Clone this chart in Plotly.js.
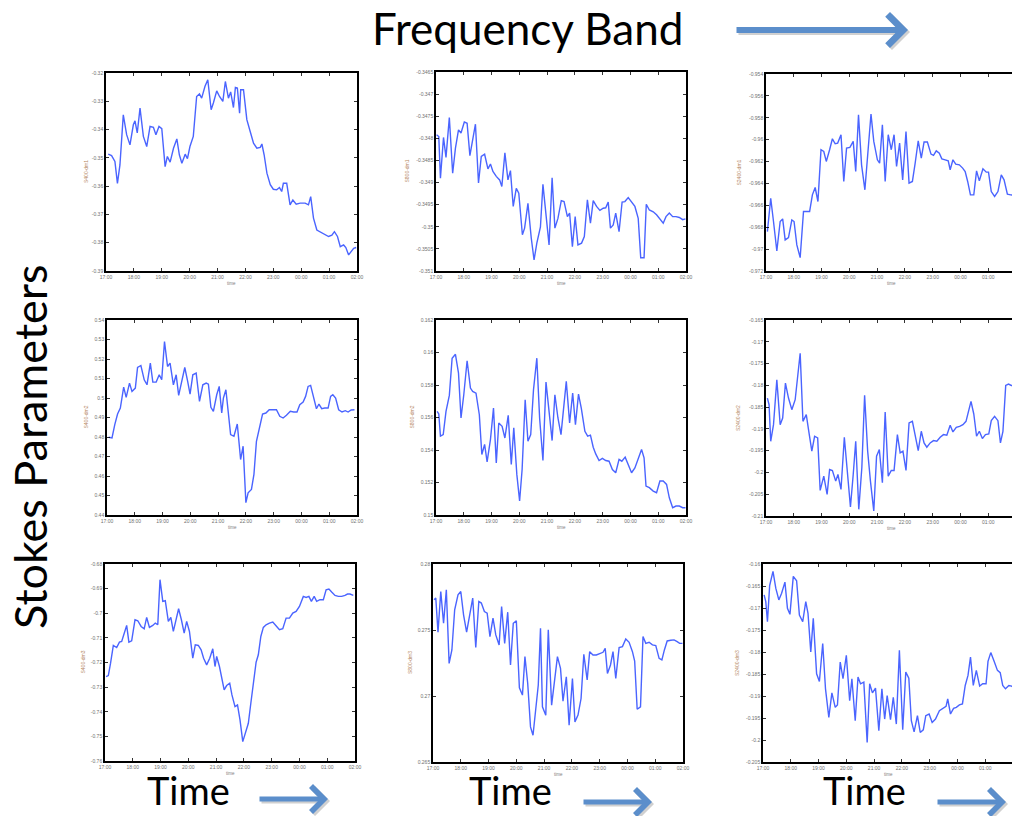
<!DOCTYPE html>
<html>
<head>
<meta charset="utf-8">
<script src="https://cdn.plot.ly/plotly-3.0.1.min.js"></script>
<style>html,body{margin:0;padding:0;background:#fff;}#chart{width:1012px;height:816px;}</style>
</head>
<body>
<div id="chart"></div>
<script>
// ---- data (time in hours after 17:00) ----
const hourTicks = [0,1,2,3,4,5,6,7,8,9];
const hourLabels = ['17:00','18:00','19:00','20:00','21:00','22:00','23:00','00:00','01:00','02:00'];
const yLabels = ['S400-dm1','S800-dm1','S2400-dm1','S400-dm2','S800-dm2','S2400-dm2','S400-dm3','S800-dm3','S2400-dm3'];

const t1 = [0.08,0.20,0.32,0.41,0.50,0.62,0.74,0.86,0.98,1.04,1.12,1.22,1.34,1.46,1.58,1.70,1.79,1.90,2.00,2.12,2.20,2.30,2.42,2.54,2.63,2.72,2.84,2.92,3.01,3.13,3.25,3.35,3.43,3.55,3.65,3.77,3.85,3.97,4.07,4.19,4.28,4.39,4.47,4.57,4.64,4.71,4.79,4.83,4.93,5.05,5.17,5.29,5.41,5.53,5.59,5.67,5.77,5.89,6.00,6.12,6.22,6.30,6.36,6.48,6.60,6.70,6.82,6.96,7.14,7.26,7.34,7.44,7.56,7.68,7.80,7.98,8.10,8.19,8.30,8.40,8.52,8.60,8.70,8.78,8.88,8.97];
const v1 = [-0.3487,-0.3492,-0.3513,-0.3590,-0.3525,-0.3348,-0.3418,-0.3454,-0.3383,-0.3369,-0.3412,-0.3324,-0.3424,-0.3460,-0.3389,-0.3392,-0.3418,-0.3389,-0.3397,-0.3531,-0.3495,-0.3515,-0.3466,-0.3433,-0.3489,-0.3519,-0.3487,-0.3503,-0.3460,-0.3424,-0.3283,-0.3274,-0.3289,-0.3247,-0.3224,-0.3330,-0.3306,-0.3263,-0.3283,-0.3300,-0.3230,-0.3289,-0.3267,-0.3322,-0.3251,-0.3253,-0.3342,-0.3259,-0.3259,-0.3365,-0.3407,-0.3448,-0.3466,-0.3463,-0.3451,-0.3489,-0.3554,-0.3595,-0.3611,-0.3613,-0.3605,-0.3619,-0.3590,-0.3590,-0.3666,-0.3649,-0.3664,-0.3660,-0.3660,-0.3666,-0.3637,-0.3713,-0.3755,-0.3761,-0.3767,-0.3778,-0.3773,-0.3761,-0.3778,-0.3814,-0.3808,-0.3817,-0.3843,-0.3832,-0.3820,-0.3817];

const t2 = [0.02,0.10,0.16,0.27,0.36,0.48,0.60,0.70,0.81,0.90,1.02,1.12,1.22,1.32,1.42,1.53,1.63,1.75,1.87,1.96,2.05,2.17,2.29,2.37,2.48,2.59,2.68,2.78,2.89,2.98,3.11,3.19,3.31,3.43,3.53,3.63,3.76,3.85,3.95,4.07,4.18,4.28,4.39,4.51,4.61,4.73,4.81,4.91,5.01,5.11,5.24,5.34,5.45,5.56,5.66,5.78,5.90,6.02,6.11,6.20,6.28,6.38,6.47,6.59,6.70,6.80,6.92,7.04,7.16,7.28,7.37,7.49,7.57,7.68,7.82,7.94,8.06,8.18,8.28,8.40,8.52,8.64,8.76,8.88,8.98];
const v2 = [-0.34792,-0.34796,-0.34890,-0.34798,-0.34843,-0.34753,-0.34879,-0.34822,-0.34781,-0.34788,-0.34763,-0.34766,-0.34839,-0.34799,-0.34768,-0.34901,-0.34841,-0.34836,-0.34869,-0.34858,-0.34875,-0.34886,-0.34894,-0.34909,-0.34833,-0.34894,-0.34873,-0.34954,-0.34913,-0.34924,-0.35018,-0.35003,-0.34947,-0.35026,-0.35075,-0.35037,-0.35000,-0.34904,-0.34973,-0.35041,-0.34889,-0.35003,-0.34981,-0.34941,-0.34943,-0.34977,-0.34969,-0.35045,-0.34977,-0.35041,-0.35037,-0.35022,-0.34939,-0.34992,-0.34941,-0.34954,-0.34963,-0.34958,-0.34957,-0.34944,-0.35003,-0.34996,-0.34969,-0.35011,-0.34944,-0.34943,-0.34934,-0.34944,-0.34954,-0.34981,-0.35070,-0.35070,-0.34949,-0.34962,-0.34966,-0.34973,-0.34984,-0.34992,-0.34977,-0.34969,-0.34977,-0.34977,-0.34979,-0.34984,-0.34982];

const t3 = [0.05,0.17,0.27,0.39,0.51,0.60,0.69,0.81,0.93,1.01,1.11,1.23,1.35,1.45,1.57,1.67,1.77,1.87,1.98,2.08,2.17,2.29,2.39,2.49,2.58,2.70,2.80,2.90,3.02,3.14,3.23,3.33,3.44,3.56,3.67,3.78,3.88,4.01,4.09,4.19,4.29,4.40,4.51,4.61,4.70,4.81,4.92,5.04,5.15,5.27,5.37,5.48,5.59,5.69,5.81,5.94,6.03,6.13,6.24,6.33,6.45,6.56,6.63,6.73,6.83,6.96,7.08,7.17,7.26,7.36,7.48,7.58,7.68,7.81,7.93,8.01,8.11,8.23,8.35,8.47,8.57,8.69,8.81,8.90,9.00];
const v3 = [-0.96840,-0.96535,-0.96748,-0.97017,-0.96748,-0.96724,-0.96916,-0.96895,-0.96733,-0.96748,-0.96962,-0.97078,-0.96657,-0.96657,-0.96657,-0.96504,-0.96437,-0.96565,-0.96092,-0.96108,-0.96199,-0.96092,-0.95992,-0.96037,-0.96031,-0.95955,-0.96382,-0.96077,-0.96071,-0.96016,-0.96291,-0.95772,-0.96230,-0.96458,-0.96077,-0.95766,-0.96016,-0.96184,-0.96214,-0.95864,-0.96382,-0.95955,-0.96092,-0.95955,-0.96245,-0.96031,-0.96367,-0.95925,-0.96397,-0.96382,-0.96214,-0.96010,-0.96169,-0.96022,-0.96022,-0.96132,-0.96144,-0.96102,-0.96123,-0.96175,-0.96184,-0.96193,-0.96275,-0.96184,-0.96224,-0.96230,-0.96260,-0.96291,-0.96382,-0.96504,-0.96504,-0.96285,-0.96376,-0.96266,-0.96297,-0.96297,-0.96474,-0.96519,-0.96474,-0.96321,-0.96367,-0.96498,-0.96504,-0.96504,-0.96510];

const t4 = [0.06,0.18,0.28,0.38,0.48,0.60,0.69,0.81,0.90,1.02,1.10,1.22,1.34,1.44,1.56,1.65,1.77,1.88,1.97,2.07,2.18,2.27,2.39,2.49,2.58,2.69,2.80,2.90,2.99,3.09,3.21,3.33,3.45,3.57,3.65,3.74,3.83,3.95,4.04,4.13,4.19,4.28,4.38,4.45,4.57,4.69,4.81,4.90,5.00,5.08,5.20,5.29,5.38,5.50,5.60,5.72,5.84,5.96,6.10,6.22,6.34,6.46,6.60,6.72,6.84,6.94,7.06,7.15,7.24,7.33,7.42,7.54,7.63,7.73,7.84,7.96,8.05,8.13,8.23,8.34,8.46,8.58,8.68,8.79,8.91];
const v4 = [0.47986,0.47952,0.48634,0.49179,0.49485,0.50559,0.50031,0.50763,0.50337,0.50508,0.51564,0.51666,0.50933,0.50678,0.51785,0.50814,0.50814,0.51189,0.50933,0.52893,0.51615,0.51785,0.50678,0.51189,0.50133,0.50933,0.51564,0.50882,0.50201,0.51189,0.51274,0.49826,0.50678,0.50763,0.50712,0.49520,0.49315,0.50167,0.50593,0.49230,0.49997,0.50422,0.49145,0.48122,0.48037,0.48668,0.46845,0.47526,0.44630,0.45141,0.45312,0.46078,0.47782,0.48634,0.49179,0.49230,0.49400,0.49400,0.49400,0.49060,0.48974,0.49111,0.49315,0.49281,0.49281,0.49656,0.49792,0.50082,0.50593,0.50644,0.50133,0.49451,0.49690,0.49451,0.49485,0.49485,0.50082,0.50167,0.49997,0.49400,0.49281,0.49349,0.49281,0.49383,0.49400];

const t5 = [0.04,0.10,0.16,0.26,0.36,0.48,0.58,0.70,0.81,0.90,1.00,1.12,1.24,1.32,1.44,1.56,1.65,1.75,1.84,1.96,2.07,2.17,2.26,2.38,2.48,2.60,2.71,2.80,2.91,3.01,3.10,3.21,3.31,3.41,3.51,3.63,3.73,3.85,3.96,4.07,4.18,4.28,4.39,4.50,4.60,4.69,4.81,4.92,5.02,5.13,5.23,5.36,5.46,5.56,5.66,5.75,5.87,5.99,6.11,6.23,6.35,6.47,6.59,6.69,6.81,6.93,7.04,7.16,7.28,7.40,7.49,7.56,7.68,7.82,7.94,8.06,8.18,8.30,8.40,8.52,8.64,8.76,8.88,8.98];
const v5 = [0.15638,0.15622,0.15485,0.15495,0.15638,0.15736,0.15965,0.15989,0.15873,0.15597,0.15740,0.15949,0.15781,0.15761,0.15750,0.15617,0.15372,0.15434,0.15327,0.15464,0.15658,0.15321,0.15566,0.15546,0.15474,0.15613,0.15311,0.15536,0.15250,0.15086,0.15280,0.15709,0.15454,0.15495,0.15771,0.15965,0.15597,0.15335,0.15818,0.15638,0.15458,0.15740,0.15597,0.15495,0.15658,0.15822,0.15566,0.15750,0.15556,0.15744,0.15658,0.15515,0.15485,0.15491,0.15417,0.15376,0.15335,0.15348,0.15335,0.15331,0.15280,0.15260,0.15342,0.15331,0.15356,0.15307,0.15260,0.15290,0.15342,0.15403,0.15352,0.15178,0.15168,0.15147,0.15137,0.15209,0.15209,0.15188,0.15106,0.15045,0.15055,0.15055,0.15045,0.15045];

const t6 = [0.05,0.11,0.17,0.27,0.39,0.51,0.60,0.70,0.81,0.93,1.05,1.13,1.23,1.33,1.45,1.54,1.65,1.75,1.86,1.95,2.08,2.20,2.29,2.39,2.51,2.59,2.70,2.82,2.92,3.04,3.14,3.23,3.34,3.45,3.55,3.66,3.76,3.88,3.98,4.08,4.19,4.29,4.40,4.51,4.61,4.73,4.83,4.93,5.04,5.15,5.27,5.38,5.48,5.59,5.69,5.79,5.91,6.03,6.15,6.27,6.39,6.51,6.63,6.73,6.85,6.97,7.09,7.20,7.32,7.38,7.48,7.58,7.68,7.79,7.90,8.02,8.11,8.23,8.35,8.44,8.53,8.63,8.73,8.83,8.90,9.00];
const v6 = [-0.18292,-0.18445,-0.19284,-0.18903,-0.17873,-0.18903,-0.18750,-0.17949,-0.18292,-0.18559,-0.18330,-0.17911,-0.17263,-0.18826,-0.18674,-0.19055,-0.19513,-0.19169,-0.19208,-0.20413,-0.20085,-0.20504,-0.19932,-0.19955,-0.20199,-0.20047,-0.20390,-0.19192,-0.19894,-0.20794,-0.20047,-0.19284,-0.20847,-0.19894,-0.18231,-0.19513,-0.20199,-0.20886,-0.19627,-0.19475,-0.20237,-0.18613,-0.20085,-0.19955,-0.19955,-0.19131,-0.19551,-0.19513,-0.19955,-0.18864,-0.18826,-0.19208,-0.19497,-0.19055,-0.19322,-0.19421,-0.19322,-0.19269,-0.19284,-0.19192,-0.19131,-0.19147,-0.18918,-0.19070,-0.18964,-0.18941,-0.18903,-0.18826,-0.18506,-0.18369,-0.18658,-0.19169,-0.19055,-0.19223,-0.19131,-0.19116,-0.18811,-0.18712,-0.18811,-0.19322,-0.19055,-0.18003,-0.17972,-0.18003,-0.18003,-0.18000];

const t7 = [0.04,0.12,0.20,0.30,0.42,0.52,0.60,0.68,0.78,0.86,0.96,1.08,1.18,1.30,1.41,1.50,1.60,1.72,1.81,1.90,1.98,2.08,2.17,2.28,2.37,2.46,2.56,2.65,2.75,2.85,2.94,3.04,3.16,3.25,3.36,3.46,3.55,3.66,3.77,3.88,3.96,4.02,4.12,4.20,4.29,4.38,4.49,4.57,4.68,4.77,4.86,4.96,5.04,5.16,5.25,5.34,5.44,5.52,5.61,5.70,5.80,5.92,6.04,6.18,6.28,6.40,6.52,6.64,6.76,6.88,7.00,7.14,7.24,7.34,7.43,7.53,7.62,7.74,7.86,7.96,8.06,8.16,8.28,8.40,8.52,8.64,8.73,8.82,8.94];
const v7 = [-0.72570,-0.72529,-0.72027,-0.71309,-0.71390,-0.71173,-0.71146,-0.70875,-0.70495,-0.71173,-0.71119,-0.70265,-0.70305,-0.70536,-0.70631,-0.70170,-0.70576,-0.70495,-0.70400,-0.70468,-0.68637,-0.69519,-0.69492,-0.70332,-0.70170,-0.70739,-0.70197,-0.69817,-0.70265,-0.70807,-0.70332,-0.70739,-0.71824,-0.71282,-0.71309,-0.71485,-0.71824,-0.72095,-0.71824,-0.71444,-0.72163,-0.71756,-0.72163,-0.72570,-0.73112,-0.72936,-0.72841,-0.73316,-0.73790,-0.73722,-0.74333,-0.75214,-0.74875,-0.74468,-0.73655,-0.72746,-0.71987,-0.71688,-0.70943,-0.70576,-0.70468,-0.70400,-0.70359,-0.70536,-0.70671,-0.70631,-0.70197,-0.70197,-0.69993,-0.69926,-0.69722,-0.69315,-0.69356,-0.69315,-0.69519,-0.69315,-0.69519,-0.69451,-0.69451,-0.69044,-0.69017,-0.69139,-0.69275,-0.69315,-0.69315,-0.69275,-0.69220,-0.69220,-0.69275];

const t8 = [0.04,0.10,0.18,0.28,0.38,0.48,0.58,0.68,0.78,0.90,1.00,1.10,1.21,1.32,1.43,1.54,1.65,1.74,1.85,1.95,2.05,2.16,2.26,2.38,2.47,2.58,2.69,2.79,2.89,3.00,3.11,3.22,3.31,3.41,3.51,3.60,3.70,3.79,3.87,3.94,4.06,4.15,4.27,4.37,4.48,4.59,4.68,4.80,4.90,5.02,5.11,5.22,5.33,5.43,5.55,5.64,5.76,5.88,6.00,6.12,6.20,6.28,6.39,6.48,6.58,6.70,6.82,6.94,7.06,7.18,7.26,7.35,7.47,7.56,7.66,7.78,7.90,8.02,8.14,8.24,8.33,8.43,8.56,8.68,8.79,8.88,8.98];
const v8 = [0.27729,0.27742,0.27483,0.27792,0.27551,0.27805,0.27247,0.27349,0.27653,0.27767,0.27792,0.27615,0.27483,0.27615,0.27742,0.27367,0.27716,0.27704,0.27640,0.27628,0.27450,0.27590,0.27463,0.27387,0.27678,0.27399,0.27635,0.27235,0.27551,0.27569,0.27062,0.27007,0.27298,0.27095,0.26766,0.26703,0.26880,0.27083,0.27513,0.26918,0.26855,0.27501,0.26931,0.27108,0.27298,0.27209,0.26961,0.27146,0.26779,0.27133,0.26804,0.26855,0.26981,0.27316,0.27121,0.27336,0.27311,0.27311,0.27323,0.27331,0.27361,0.27171,0.27235,0.27336,0.27133,0.27367,0.27374,0.27432,0.27407,0.27336,0.27265,0.26900,0.26918,0.27450,0.27399,0.27407,0.27387,0.27382,0.27285,0.27273,0.27349,0.27417,0.27422,0.27425,0.27412,0.27399,0.27399];

const t9 = [0.04,0.10,0.16,0.24,0.36,0.46,0.57,0.67,0.79,0.88,0.97,1.09,1.21,1.31,1.43,1.54,1.62,1.72,1.81,1.93,2.03,2.15,2.25,2.37,2.48,2.60,2.68,2.78,2.88,3.00,3.12,3.20,3.32,3.42,3.51,3.63,3.75,3.84,3.94,4.05,4.17,4.28,4.38,4.47,4.59,4.69,4.80,4.91,5.03,5.14,5.25,5.34,5.44,5.56,5.66,5.77,5.86,5.98,6.09,6.21,6.35,6.47,6.59,6.65,6.75,6.86,6.96,7.07,7.18,7.28,7.38,7.47,7.57,7.68,7.80,7.91,8.03,8.10,8.20,8.32,8.44,8.54,8.63,8.73,8.85,8.95,9.00];
const v9 = [-0.16702,-0.16854,-0.17312,-0.16488,-0.16168,-0.16549,-0.16816,-0.16664,-0.16412,-0.17007,-0.17144,-0.16282,-0.16381,-0.17159,-0.17312,-0.16854,-0.17121,-0.17998,-0.17236,-0.18494,-0.18669,-0.17808,-0.18837,-0.19486,-0.18929,-0.19257,-0.19203,-0.18227,-0.18608,-0.18075,-0.19104,-0.18608,-0.19562,-0.18570,-0.18723,-0.18685,-0.20058,-0.18723,-0.18929,-0.18822,-0.19791,-0.18837,-0.19524,-0.18990,-0.19539,-0.19028,-0.19638,-0.17960,-0.19768,-0.18456,-0.18593,-0.19562,-0.19814,-0.19447,-0.19829,-0.19768,-0.19447,-0.19409,-0.19600,-0.19524,-0.19333,-0.19280,-0.19234,-0.19066,-0.19409,-0.19280,-0.19257,-0.19203,-0.19180,-0.18761,-0.18532,-0.18113,-0.18761,-0.18418,-0.18776,-0.18723,-0.18723,-0.18212,-0.18014,-0.18212,-0.18418,-0.18471,-0.18761,-0.18837,-0.18761,-0.18776,-0.18800];

const yt1 = [-0.32,-0.33,-0.34,-0.35,-0.36,-0.37,-0.38,-0.39];
const yt2 = [-0.3465,-0.347,-0.3475,-0.348,-0.3485,-0.349,-0.3495,-0.35,-0.3505,-0.351];
const yt3 = [-0.954,-0.956,-0.958,-0.96,-0.962,-0.964,-0.966,-0.968,-0.97,-0.972];
const yt4 = [0.54,0.53,0.52,0.51,0.5,0.49,0.48,0.47,0.46,0.45,0.44];
const yt5 = [0.162,0.16,0.158,0.156,0.154,0.152,0.15];
const yt6 = [-0.165,-0.17,-0.175,-0.18,-0.185,-0.19,-0.195,-0.2,-0.205,-0.21];
const yt7 = [-0.68,-0.69,-0.7,-0.71,-0.72,-0.73,-0.74,-0.75,-0.76];
const yt8 = [0.28,0.275,0.27,0.265];
const yt9 = [-0.16,-0.165,-0.17,-0.175,-0.18,-0.185,-0.19,-0.195,-0.2,-0.205];

// ---- layout geometry (pixels) ----
const W = 1012, H = 816;
const boxes = [
  [106,357,73,271],[436,686,72,271],[766,1016,74,271],
  [107,357,320,515],[436,686,320,515],[766,1016,320,516],
  [105,355,564,761],[433,683,564,762],[763,1013,564,762]];
const labelOffsets = [20,30,28,21,24,28,23,23,26];
const series = [[t1,v1,yt1],[t2,v2,yt2],[t3,v3,yt3],[t4,v4,yt4],[t5,v5,yt5],[t6,v6,yt6],[t7,v7,yt7],[t8,v8,yt8],[t9,v9,yt9]];

const traces = [];
const layout = {
  width: W, height: H, autosize: false,
  margin: {l:0, r:0, t:0, b:0},
  paper_bgcolor: '#fff', plot_bgcolor: '#fff',
  showlegend: false,
  annotations: []
};
const tickFont = {family: 'Liberation Sans, Arial, sans-serif', size: 5, color: '#707070'};

series.forEach((s, i) => {
  const [x0,x1,y0,y1] = boxes[i];
  const xr = Math.min(x1, W);
  const rMax = 9 * (xr - x0) / (x1 - x0);
  const sfx = i === 0 ? '' : String(i + 1);
  const ticks = s[2];
  traces.push({
    x: s[0], y: s[1], type: 'scatter', mode: 'lines',
    xaxis: 'x' + sfx, yaxis: 'y' + sfx,
    line: {color: '#4a64ff', width: 1.4},
    hoverinfo: 'skip'
  });
  layout['xaxis' + sfx] = {
    domain: [x0 / W, xr / W], range: [0, rMax], anchor: 'y' + sfx,
    tickmode: 'array', tickvals: hourTicks, ticktext: hourLabels,
    ticks: 'inside', ticklen: 3, tickwidth: 0.8, tickcolor: '#000',
    showline: true, linecolor: '#000', linewidth: 1.8, mirror: 'allticks',
    showgrid: false, zeroline: false, tickfont: tickFont, fixedrange: true
  };
  layout['yaxis' + sfx] = {
    domain: [1 - y1 / H, 1 - y0 / H],
    range: [Math.min(...ticks), Math.max(...ticks)], anchor: 'x' + sfx,
    tickmode: 'array', tickvals: ticks, ticktext: ticks.map(String),
    ticks: 'inside', ticklen: 3, tickwidth: 0.8, tickcolor: '#000',
    showline: true, linecolor: '#000', linewidth: 1.8,
    mirror: (x1 > W) ? false : 'allticks',
    showgrid: false, zeroline: false, tickfont: tickFont, fixedrange: true
  };
  layout.annotations.push({
    xref: 'paper', yref: 'paper', x: (x0 - labelOffsets[i]) / W, y: 1 - (y0 + y1) / 2 / H,
    text: yLabels[i], showarrow: false, textangle: -90,
    xanchor: 'center', yanchor: 'middle',
    font: {family: 'Liberation Sans, Arial, sans-serif', size: 5, color: '#b5875f'}
  });
  layout.annotations.push({
    xref: 'paper', yref: 'paper', x: (x0 + 125) / W, y: 1 - (y1 + 12.5) / H,
    text: 'time', showarrow: false, xanchor: 'center', yanchor: 'middle',
    font: {family: 'Liberation Sans, Arial, sans-serif', size: 4.5, color: '#808080'}
  });
});

// big labels
const bigFont = (sz) => ({family: 'Lato, "Open Sans", sans-serif', size: sz, color: '#000'});
layout.annotations.push({xref:'paper', yref:'paper', x: 527/W, y: 1 - 28/H, text: 'Frequency Band',
  showarrow:false, xanchor:'center', yanchor:'middle', font: bigFont(44)});
layout.annotations.push({xref:'paper', yref:'paper', x: 30/W, y: 1 - 447/H, text: 'Stokes Parameters',
  showarrow:false, xanchor:'center', yanchor:'middle', textangle:-90, font: bigFont(45)});
[188, 511, 864].forEach(px => {
  layout.annotations.push({xref:'paper', yref:'paper', x: px/W, y: 1 - 815/H, text: 'Time',
    showarrow:false, xanchor:'center', yanchor:'bottom', font: bigFont(38)});
});

// arrows (tail px, tip px, y px, width)
const arrows = [[735,908,30,6],[258,328,799,5],[582,652,802,5],[936,1006,802,5]];
arrows.forEach(a => {
  const [tx, hx, y, w] = a;
  // soft shadow
  layout.annotations.push({xref:'paper', yref:'paper', x: (hx+2)/W, y: 1-(y+2)/H, ax: -(hx-tx), ay: 0,
    text:'', showarrow:true, arrowhead:4, arrowwidth:w, arrowsize:1, arrowcolor:'rgba(0,0,0,0.18)', standoff:0});
  layout.annotations.push({xref:'paper', yref:'paper', x: hx/W, y: 1-y/H, ax: -(hx-tx), ay: 0,
    text:'', showarrow:true, arrowhead:4, arrowwidth:w, arrowsize:1, arrowcolor:'#5b8ecb', standoff:0});
});

Plotly.newPlot('chart', traces, layout, {staticPlot: true, displayModeBar: false});
</script>
</body>
</html>
